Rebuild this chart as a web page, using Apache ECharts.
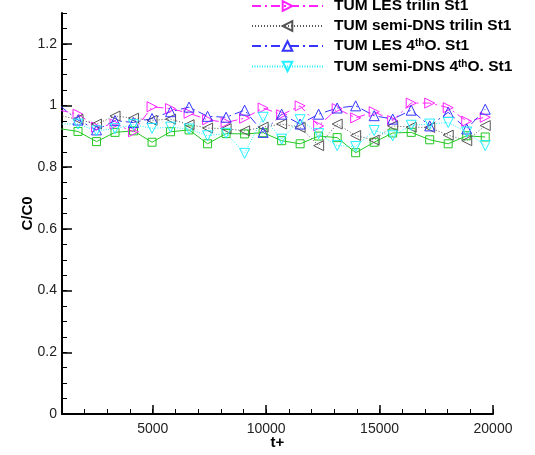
<!DOCTYPE html>
<html><head><meta charset="utf-8">
<script src="https://cdn.jsdelivr.net/npm/echarts@6/dist/echarts.min.js"></script>
<style>html,body{margin:0;padding:0;background:#fff}#c{width:535px;height:455px}</style>
</head><body><div id="c"></div>
<script>
// t+ sample positions (first one lies just left of the plotted range)
const tPlus = [890, 1706, 2522, 3338, 4154, 4970, 5786, 6602, 7418, 8234, 9050, 9866, 10682, 11498, 12314, 13130, 13946, 14762, 15578, 16394, 17210, 18026, 18842, 19658];
// green squares (reference curve, legend entry above visible area)
const refSt1 = [0.925, 0.916, 0.883, 0.913, 0.918, 0.881, 0.915, 0.921, 0.876, 0.909, 0.908, 0.912, 0.886, 0.876, 0.901, 0.896, 0.847, 0.881, 0.911, 0.913, 0.889, 0.876, 0.902, 0.898];
const lesTrilin = [0.985, 0.972, 0.930, 0.940, 0.915, 0.996, 0.990, 0.975, 0.954, 0.945, 0.959, 0.992, 0.970, 0.999, 0.934, 0.990, 0.960, 0.980, 0.951, 1.008, 1.008, 0.993, 0.949, 0.962];
const dnsTrilin = [0.968, 0.955, 0.940, 0.966, 0.959, 0.952, 0.956, 0.938, 0.927, 0.925, 0.918, 0.930, 0.940, 0.929, 0.870, 0.940, 0.903, 0.888, 0.934, 0.930, 0.929, 0.904, 0.886, 0.935];
const les4th = [1.000, 0.953, 0.921, 0.951, 0.945, 0.958, 0.980, 0.995, 0.965, 0.962, 0.985, 0.913, 0.972, 0.940, 0.972, 0.992, 0.999, 0.967, 0.956, 0.985, 0.934, 0.978, 0.924, 0.988];
const dns4th = [0.940, 0.940, 0.918, 0.925, 0.938, 0.926, 0.930, 0.924, 0.902, 0.910, 0.845, 0.962, 0.891, 0.954, 0.909, 0.870, 0.867, 0.919, 0.902, 0.936, 0.940, 0.945, 0.914, 0.870];
const xLabelTicks = [5000, 10000, 15000, 20000];
const yLabelTicks = [0, 0.2, 0.4, 0.6, 0.8, 1, 1.2];

const names = ['Reference St1', 'TUM LES trilin St1', 'TUM semi-DNS trilin St1', 'TUM LES 4thO. St1', 'TUM semi-DNS 4thO. St1'];
const FONT = '"Liberation Sans", Arial, sans-serif';
const pair = arr => tPlus.map((t, i) => [t, arr[i]]);

const triR = 'path://M0,0 L10,5 L0,10 Z';
const triL = 'path://M10,0 L0,5 L10,10 Z';
const triU = 'path://M5,0 L10,10 L0,10 Z';
const triD = 'path://M0,0 L10,0 L5,10 Z';

function mk(name, data, color, dash, symbol, size) {
  return {
    name, type: 'line', data: pair(data), xAxisIndex: 0, yAxisIndex: 0,
    symbol, symbolSize: size, showAllSymbol: true, clip: true,
    lineStyle: { color, width: 1, type: dash },
    itemStyle: { color: 'transparent', borderColor: color, borderWidth: 1 },
    emphasis: { disabled: true }, animation: false
  };
}

const chart = echarts.init(document.getElementById('c'), null, { renderer: 'canvas' });
chart.setOption({
  animation: false,
  backgroundColor: '#fff',
  grid: { left: 62, right: 42, top: 13, bottom: 41, outerBoundsMode: 'none', containLabel: false },
  legend: {
    data: names.slice(1),
    orient: 'vertical', left: 251, top: -2, padding: 0,
    itemWidth: 71, itemHeight: 12, itemGap: 4,
    formatter: n => n.replace('4thO', '4{sup|th}O'),
    textStyle: {
      fontFamily: FONT, fontSize: 15.5, lineHeight: 15, fontWeight: 'bold', color: '#000', padding: [0, 0, 0, 6],
      rich: { sup: { fontFamily: FONT, fontSize: 10, lineHeight: 15, fontWeight: 'bold', color: '#000', verticalAlign: 'top', padding: [0, 0, 6, 0] } }
    }
  },
  xAxis: [{
    type: 'value', min: 1000, max: 20000, position: 'bottom',
    axisLine: { onZero: false, lineStyle: { color: '#000', width: 2 } },
    axisTick: { inside: true, length: 9, customValues: xLabelTicks, lineStyle: { color: '#000', width: 1.5 } },
    axisLabel: { customValues: xLabelTicks, formatter: v => String(v), fontFamily: FONT, fontSize: 14, color: '#222', margin: 8 },
    splitLine: { show: false },
    name: 't+', nameLocation: 'middle', nameGap: 21, nameMoveOverlap: false,
    nameTextStyle: { fontFamily: FONT, fontSize: 15, fontWeight: 'bold', color: '#000' }
  }, {
    type: 'value', min: 1000, max: 20000, interval: 1000, position: 'bottom', offset: 0,
    axisLine: { show: false },
    axisTick: { inside: true, length: 5, lineStyle: { color: '#000', width: 1 } },
    axisLabel: { show: false }, splitLine: { show: false }
  }],
  yAxis: [{
    type: 'value', min: 0, max: 1.3, position: 'left',
    axisLine: { onZero: false, lineStyle: { color: '#000', width: 2 } },
    axisTick: { inside: true, length: 10, customValues: yLabelTicks, lineStyle: { color: '#000', width: 1.5 } },
    axisLabel: { customValues: yLabelTicks, formatter: v => String(v), fontFamily: FONT, fontSize: 14, color: '#222', margin: 5 },
    splitLine: { show: false },
    name: 'C/C0', nameLocation: 'middle', nameGap: 27, nameRotate: 90, nameMoveOverlap: false,
    nameTextStyle: { fontFamily: FONT, fontSize: 15, fontWeight: 'bold', color: '#000' }
  }, {
    type: 'value', min: 0, max: 1.3, interval: 0.05, position: 'left', offset: 0,
    axisLine: { show: false },
    axisTick: { inside: true, length: 5, lineStyle: { color: '#000', width: 1 } },
    axisLabel: { show: false }, splitLine: { show: false }
  }],
  series: [
    mk(names[0], refSt1, '#22c822', 'solid', 'rect', 8),
    mk(names[1], lesTrilin, '#ff22ff', [9, 4, 2, 4], triR, 10),
    mk(names[2], dnsTrilin, '#555555', [1, 2], triL, 10),
    mk(names[3], les4th, '#3535ff', [9, 4, 2, 4], triU, 10),
    mk(names[4], dns4th, '#22f0ff', [1, 1.5], triD, 10)
  ]
});
</script>
</body></html>
